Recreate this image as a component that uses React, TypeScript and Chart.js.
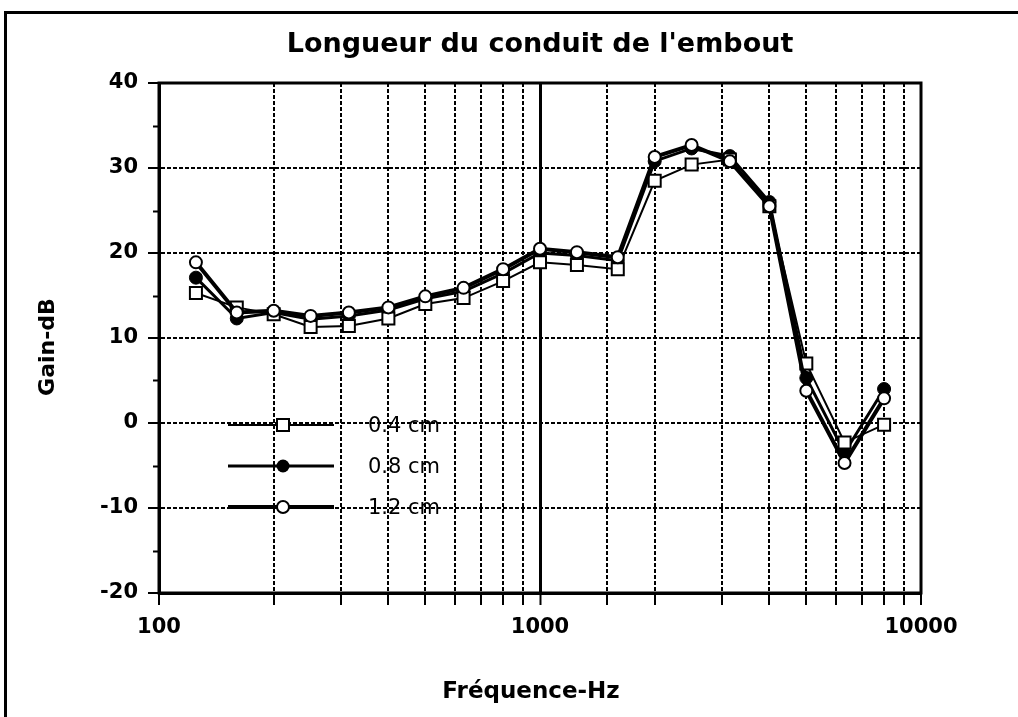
import React, { useEffect, useRef } from "react";
import { Chart, registerables } from "chart.js";

Chart.register(...registerables);

const frequencies = [125, 160, 200, 250, 315, 400, 500, 630, 800, 1000, 1250, 1600, 2000, 2500, 3150, 4000, 5000, 6300, 8000];
const gain04 = [15.3, 13.6, 12.8, 11.3, 11.4, 12.3, 14.0, 14.7, 16.7, 18.9, 18.6, 18.1, 28.5, 30.4, 31.0, 25.5, 7.0, -2.3, -0.2];
const gain08 = [17.1, 12.3, 13.0, 12.2, 12.6, 13.3, 14.6, 15.5, 17.6, 20.0, 19.7, 19.1, 30.8, 32.3, 31.4, 26.0, 5.3, -3.5, 4.0];
const gain12 = [18.9, 13.0, 13.2, 12.6, 13.0, 13.6, 14.9, 15.9, 18.1, 20.5, 20.1, 19.5, 31.3, 32.7, 30.8, 25.5, 3.8, -4.7, 2.9];
const seriesLabels = ["0.4 cm", "0.8 cm", "1.2 cm"];
const xTickLabels = [100, 1000, 10000];
const titleText = "Longueur du conduit de l'embout";
const xTitle = "Fréquence-Hz";
const yTitle = "Gain-dB";

const FONT = "'DejaVu Sans', 'Liberation Sans', sans-serif";

function drawMarker(ctx: CanvasRenderingContext2D, kind: number, x: number, y: number) {
  ctx.save();
  ctx.lineWidth = 2;
  ctx.strokeStyle = "#000";
  if (kind === 0) {
    ctx.fillStyle = "#fff";
    ctx.fillRect(x - 6, y - 6, 12, 12);
    ctx.strokeRect(x - 6, y - 6, 12, 12);
  } else if (kind === 1) {
    ctx.fillStyle = "#000";
    ctx.beginPath();
    ctx.arc(x, y, 6.5, 0, Math.PI * 2);
    ctx.fill();
  } else {
    ctx.fillStyle = "#fff";
    ctx.beginPath();
    ctx.arc(x, y, 6, 0, Math.PI * 2);
    ctx.fill();
    ctx.stroke();
  }
  ctx.restore();
}

const decorPlugin = {
  id: "decor",
  beforeDraw(chart: any) {
    const ctx = chart.ctx as CanvasRenderingContext2D;
    ctx.save();
    ctx.fillStyle = "#fff";
    ctx.fillRect(0, 0, chart.width, chart.height);
    ctx.strokeStyle = "#000";
    ctx.lineWidth = 3;
    ctx.beginPath();
    ctx.moveTo(5.5, chart.height + 5);
    ctx.lineTo(5.5, 12.5);
    ctx.lineTo(chart.width + 5, 12.5);
    ctx.stroke();
    ctx.restore();
  },
  afterDraw(chart: any) {
    const ctx = chart.ctx as CanvasRenderingContext2D;
    const area = chart.chartArea;
    const yScale = chart.scales.y;
    ctx.save();
    ctx.setLineDash([]);
    ctx.strokeStyle = "#000";
    ctx.lineWidth = 3;
    ctx.strokeRect(area.left, area.top, area.right - area.left, area.bottom - area.top);
    ctx.lineWidth = 2;
    for (let v = -15; v < 40; v += 10) {
      const py = Math.round(yScale.getPixelForValue(v)) + 0.5;
      ctx.beginPath();
      ctx.moveTo(area.left - 6, py);
      ctx.lineTo(area.left, py);
      ctx.stroke();
    }
    ctx.fillStyle = "#000";
    ctx.textAlign = "center";
    ctx.textBaseline = "middle";
    ctx.font = `bold 27px ${FONT}`;
    ctx.fillText(titleText, 540, 45);
    ctx.font = `bold 23px ${FONT}`;
    ctx.fillText(xTitle, 531, 692);
    ctx.save();
    ctx.translate(48, 347);
    ctx.rotate(-Math.PI / 2);
    ctx.font = `bold 22px ${FONT}`;
    ctx.fillText(yTitle, 0, 0);
    ctx.restore();
    const rows = [425, 466, 507];
    const widths = [2, 3, 4];
    ctx.textAlign = "left";
    ctx.font = `21px ${FONT}`;
    rows.forEach((ry, i) => {
      ctx.strokeStyle = "#000";
      ctx.lineWidth = widths[i];
      ctx.beginPath();
      ctx.moveTo(228, ry);
      ctx.lineTo(334, ry);
      ctx.stroke();
      drawMarker(ctx, i, 283, ry);
      ctx.fillStyle = "#000";
      ctx.fillText(seriesLabels[i], 368, ry + 2);
    });
    ctx.restore();
  },
};

export default function App() {
  const ref = useRef<HTMLCanvasElement | null>(null);
  useEffect(() => {
    if (!ref.current) return;
    const mk = (vals: number[]) => frequencies.map((f, i) => ({ x: f, y: vals[i] }));
    const chart = new Chart(ref.current, {
      type: "line",
      data: {
        datasets: [
          {
            label: seriesLabels[2],
            data: mk(gain12),
            borderColor: "#000",
            borderWidth: 4,
            pointStyle: "circle",
            pointRadius: 6,
            pointBackgroundColor: "#fff",
            pointBorderColor: "#000",
            pointBorderWidth: 2,
            order: 0,
          },
          {
            label: seriesLabels[0],
            data: mk(gain04),
            borderColor: "#000",
            borderWidth: 2,
            pointStyle: "rect",
            pointRadius: 8.5,
            pointBackgroundColor: "#fff",
            pointBorderColor: "#000",
            pointBorderWidth: 2,
            order: 1,
          },
          {
            label: seriesLabels[1],
            data: mk(gain08),
            borderColor: "#000",
            borderWidth: 3,
            pointStyle: "circle",
            pointRadius: 6.5,
            pointBackgroundColor: "#000",
            pointBorderColor: "#000",
            pointBorderWidth: 1,
            order: 2,
          },
        ],
      },
      options: {
        responsive: false,
        animation: false,
        events: [],
        layout: { padding: { left: 0, top: 83, right: 97, bottom: 0 } },
        plugins: { legend: { display: false }, title: { display: false }, tooltip: { enabled: false } },
        scales: {
          x: {
            type: "logarithmic",
            min: 100,
            max: 10000,
            afterFit: (s: any) => { s.height = 124; },
            border: {
              display: true,
              color: "#000",
              width: 3,
              dash: (c: any) => (c.tick && c.tick.value === 1000 ? [] : [4, 2]),
            },
            grid: {
              color: "#000",
              lineWidth: (c: any) => (c.tick && c.tick.value === 1000 ? 3 : 2),
              tickLength: 12,
              tickColor: "#000",
              tickWidth: 2,
              tickBorderDash: [],
            },
            ticks: {
              autoSkip: false,
              maxRotation: 0,
              color: "#000",
              padding: 10,
              font: { family: FONT, size: 21, weight: "bold" },
              callback: (v: any) => (xTickLabels.includes(Number(v)) ? String(v) : ""),
            },
          },
          y: {
            min: -20,
            max: 40,
            afterFit: (s: any) => { s.width = 159; },
            border: { display: true, color: "#000", width: 3, dash: [4, 2] },
            grid: {
              color: "#000",
              lineWidth: 2,
              tickLength: 11,
              tickColor: "#000",
              tickWidth: 2,
              tickBorderDash: [],
            },
            ticks: {
              stepSize: 10,
              color: "#000",
              padding: 10,
              font: { family: FONT, size: 21, weight: "bold" },
            },
          },
        },
      },
      plugins: [decorPlugin],
    } as any);
    return () => chart.destroy();
  }, []);
  return (
    <div style={{ position: "fixed", left: 0, top: 0, width: 1018, height: 717, background: "#fff" }}>
      <canvas ref={ref} width={1018} height={717} style={{ display: "block", width: 1018, height: 717 }} />
    </div>
  );
}
